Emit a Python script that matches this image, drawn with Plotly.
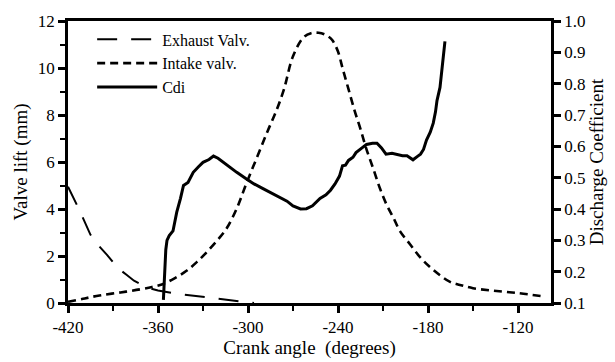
import plotly.graph_objects as go

# Exhaust valve lift (mm) vs crank angle (deg)
exh_angle = [-420, -412, -405, -399, -394, -387, -381, -376, -371, -367, -360, -354, -348, -343, -335, -327, -321, -315, -308, -301, -296]
exh_lift = [4.95, 3.9, 2.9, 2.4, 2.05, 1.5, 1.2, 0.95, 0.78, 0.65, 0.53, 0.45, 0.4, 0.36, 0.3, 0.24, 0.18, 0.13, 0.08, 0.03, 0.0]

# Intake valve lift (mm)
int_angle = [-420, -410, -399, -385, -372, -364, -357, -349, -341, -334, -327, -320, -314, -307, -301, -294, -287, -281, -276, -270, -263, -258, -253,
             -248, -244, -240, -237, -233, -229, -225, -221, -216.4, -212, -207.5, -203, -198.7, -192, -185.3, -178.7, -172, -165.3, -158.7, -150,
             -137, -120, -103]
int_lift = [0.05, 0.18, 0.32, 0.45, 0.58, 0.68, 0.8, 1.05, 1.37, 1.75, 2.2, 2.7, 3.2, 4.1, 5.1, 6.2, 7.3, 8.2, 9.1, 10.5, 11.3, 11.48, 11.5,
            11.4, 11.2, 10.7, 10.0, 9.1, 8.2, 7.4, 6.54, 5.7, 4.87, 4.17, 3.62, 3.06, 2.5, 1.95, 1.53, 1.18, 0.9, 0.77, 0.63,
            0.53, 0.42, 0.28]

# Discharge coefficient Cdi
cdi_angle = [-356.4, -355.6, -354.8, -354, -352.5, -350, -347.5, -345, -343, -340, -336.5, -333, -330, -326, -323, -320, -316.5, -312, -307.5, -301,
             -296, -290, -284, -279, -274, -270, -265, -261, -257, -252, -248, -245, -242, -239, -237, -235, -233, -230, -228, -224, -221, -217,
             -214, -211, -208, -204, -201, -197, -194, -190, -187, -185, -183, -181, -178.5, -176.5, -175, -174, -172, -170, -168.7]
cdi_val = [0.11, 0.2, 0.27, 0.3, 0.315, 0.33, 0.39, 0.434, 0.475, 0.485, 0.517, 0.535, 0.549, 0.558, 0.569, 0.562, 0.549, 0.532, 0.517, 0.496,
           0.48, 0.465, 0.45, 0.44, 0.425, 0.41, 0.4, 0.401, 0.41, 0.434, 0.445, 0.46, 0.48, 0.505, 0.538, 0.54, 0.555, 0.565, 0.58, 0.595, 0.606, 0.61,
           0.61, 0.595, 0.575, 0.578, 0.575, 0.57, 0.57, 0.557, 0.568, 0.575, 0.59, 0.62, 0.645, 0.674, 0.71, 0.746, 0.788, 0.87, 0.935]

FONT = "Liberation Serif"

fig = go.Figure()
fig.add_trace(go.Scatter(x=exh_angle, y=exh_lift, mode="lines", name="Exhaust Valv.",
                         line=dict(color="black", width=2, dash="20px,14px")))
fig.add_trace(go.Scatter(x=int_angle, y=int_lift, mode="lines", name="Intake valv.",
                         line=dict(color="black", width=2.6, dash="8px,5px", shape="spline")))
fig.add_trace(go.Scatter(x=cdi_angle, y=cdi_val, mode="lines", name="Cdi", yaxis="y2",
                         line=dict(color="black", width=3)))

axis_common = dict(showline=True, linecolor="black", linewidth=2.5, ticks="outside",
                   tickcolor="black", tickwidth=2.5, ticklen=7, showgrid=False, zeroline=False,
                   tickfont=dict(family=FONT, size=17, color="black"))

fig.update_layout(
    width=615, height=362,
    margin=dict(l=68, r=64, t=19, b=55),
    paper_bgcolor="white", plot_bgcolor="white",
    font=dict(family=FONT, color="black"),
    showlegend=True,
    legend=dict(x=0.05, y=0.995, xanchor="left", yanchor="top", bgcolor="rgba(0,0,0,0)",
                font=dict(family=FONT, size=16, color="black"), tracegroupgap=0, itemwidth=60),
    xaxis=dict(range=[-420, -98], tickvals=[-420, -360, -300, -240, -180, -120],
               ticktext=["-420", "-360", "-300", "-240", "-180", "-120"],
               minor=dict(dtick=30, tick0=-420, ticks="outside", ticklen=5, tickcolor="black", tickwidth=2),
               title=dict(text="Crank angle  (degrees)", font=dict(family=FONT, size=19, color="black"), standoff=0),
               mirror=True, **axis_common),
    yaxis=dict(range=[0, 12], tickvals=[0, 2, 4, 6, 8, 10, 12],
               minor=dict(dtick=1, ticks="outside", ticklen=5, tickcolor="black", tickwidth=2),
               title=dict(text="Valve lift (mm)", font=dict(family=FONT, size=19, color="black"), standoff=6),
               **axis_common),
    yaxis2=dict(range=[0.1, 1.0], overlaying="y", side="right",
                tickvals=[0.1, 0.2, 0.3, 0.4, 0.5, 0.6, 0.7, 0.8, 0.9, 1.0],
                ticktext=["0.1", "0.2", "0.3", "0.4", "0.5", "0.6", "0.7", "0.8", "0.9", "1.0"],
                title=dict(text="Discharge Coefficient", font=dict(family=FONT, size=19, color="black"), standoff=2),
                **axis_common),
)

fig.write_html("out.html")
